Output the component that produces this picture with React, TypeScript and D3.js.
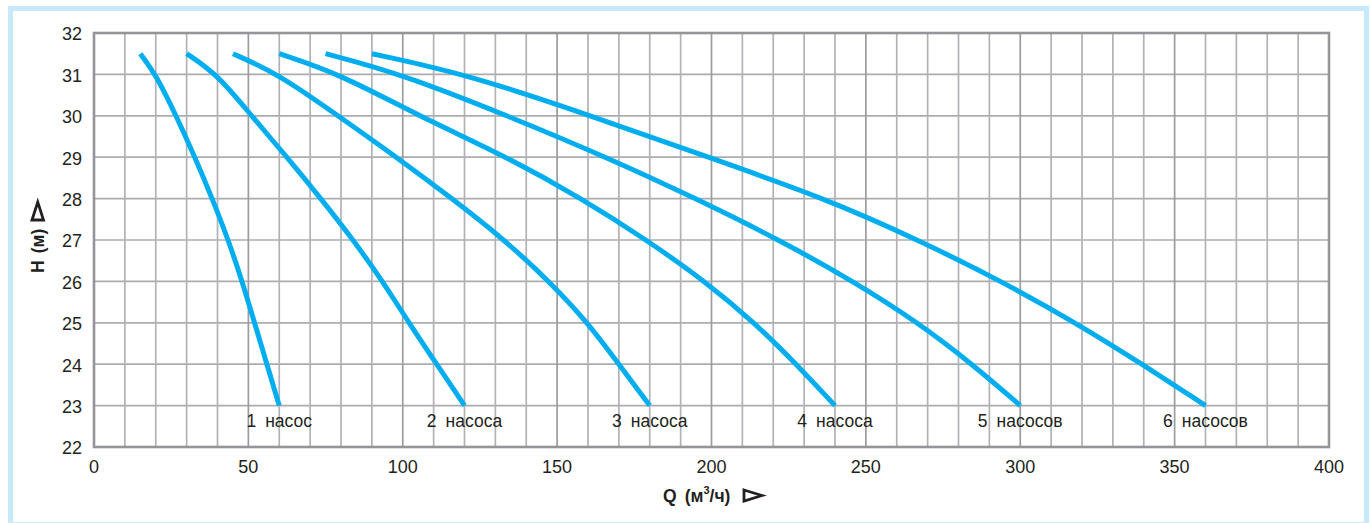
import React from "react";
import * as d3 from "d3";

const pump1: [number, number][] = [[15, 31.5], [20, 31], [26.6, 30], [32.7, 29], [38.3, 28], [43.5, 27], [48, 26], [52, 25], [56, 24], [60, 23]];
const pump2: [number, number][] = [[30, 31.5], [40, 31], [51, 30], [62.5, 29], [73.5, 28], [84, 27], [93.5, 26], [102, 25], [111, 24], [120, 23]];
const pump3: [number, number][] = [[45, 31.5], [60, 31], [79, 30], [98, 29], [116, 28], [133, 27], [147.5, 26], [160, 25], [170, 24], [180, 23]];
const pump4: [number, number][] = [[60, 31.5], [80, 31], [105, 30], [134, 29], [158, 28], [179, 27], [198, 26], [214, 25], [227.5, 24], [240, 23]];
const pump5: [number, number][] = [[75, 31.5], [100, 31], [134, 30], [166, 29], [195, 28], [222, 27], [246, 26], [267, 25], [284.5, 24], [300, 23]];
const pump6: [number, number][] = [[90, 31.5], [121, 31], [161, 30], [199, 29], [237, 28], [267, 27], [294, 26], [318, 25], [339.5, 24], [360, 23]];

const series = [pump1, pump2, pump3, pump4, pump5, pump6];
const labelNums = ["1", "2", "3", "4", "5", "6"];
const labelWords = ["насос", "насоса", "насоса", "насоса", "насосов", "насосов"];

const xTickLabels = [0, 50, 100, 150, 200, 250, 300, 350, 400];
const yTickLabels = [22, 23, 24, 25, 26, 27, 28, 29, 30, 31, 32];

const W = 1370;
const H = 523;
const left = 94;
const right = 1329;
const top = 33;
const bottom = 447;

export default function App() {
  const x = d3.scaleLinear().domain([0, 400]).range([left, right]);
  const y = d3.scaleLinear().domain([22, 32]).range([bottom, top]);
  const line = d3
    .line<[number, number]>()
    .x((d) => x(d[0]))
    .y((d) => y(d[1]))
    .curve(d3.curveBasis);

  const xGrid = d3.range(10, 400, 10);
  const yGrid = d3.range(23, 32, 1);
  const font = "'Liberation Sans', Arial, Helvetica, sans-serif";
  const textColor = "#231f20";

  return (
    <svg
      width={W}
      height={H}
      style={{ position: "absolute", left: 0, top: 0, background: "#fff" }}
      fontFamily={font}
    >
      <rect x={10.5} y={8.5} width={1356} height={516} fill="#fff" stroke="#c6eafa" strokeWidth={5} />

      {yGrid.map((v) => (
        <line key={"yg" + v} x1={left} x2={right} y1={y(v)} y2={y(v)} stroke="#aaacaf" strokeWidth={1.7} />
      ))}
      {xGrid.map((v) => (
        <line
          key={"xg" + v}
          x1={x(v)}
          x2={x(v)}
          y1={top}
          y2={bottom}
          stroke={v % 50 === 0 ? "#9a9c9f" : "#b0b2b5"}
          strokeWidth={1.7}
        />
      ))}
      <rect x={left} y={top} width={right - left} height={bottom - top} fill="none" stroke="#939598" strokeWidth={2.6} />

      {series.map((s, i) => (
        <path key={"s" + i} d={line(s) || ""} fill="none" stroke="#00aeef" strokeWidth={5} />
      ))}

      {series.map((s, i) => {
        const end = s[s.length - 1];
        return (
          <text key={"l" + i} x={x(end[0])} y={427.3} textAnchor="middle" fontSize={17.5} fill={textColor}>
            {labelNums[i]}
            <tspan dx={9}>{labelWords[i]}</tspan>
          </text>
        );
      })}

      {yTickLabels.map((v) => (
        <text key={"yt" + v} x={82} y={y(v) + 7.3} textAnchor="end" fontSize={18} fill={textColor}>
          {v}
        </text>
      ))}
      {xTickLabels.map((v) => (
        <text key={"xt" + v} x={x(v)} y={472.7} textAnchor="middle" fontSize={18} fill={textColor}>
          {v}
        </text>
      ))}

      <text x={663} y={501.5} fontSize={17.5} fontWeight="bold" fill={textColor}>
        Q
        <tspan dx={8}>(м</tspan>
        <tspan fontSize={11} dy={-7.5}>3</tspan>
        <tspan dy={7.5}>/ч)</tspan>
      </text>
      <path d="M744,490 L762,495.5 L744,501 Z" fill="none" stroke={textColor} strokeWidth={2.8} strokeLinejoin="miter" />

      <g transform="translate(44,236) rotate(-90)">
        <text x={-37} y={0} fontSize={17.5} fontWeight="bold" fill={textColor}>
          H
          <tspan dx={7}>(м)</tspan>
        </text>
        <path d="M16,-12 L34,-6.25 L16,-0.5 Z" fill="none" stroke={textColor} strokeWidth={2.8} />
      </g>
    </svg>
  );
}
